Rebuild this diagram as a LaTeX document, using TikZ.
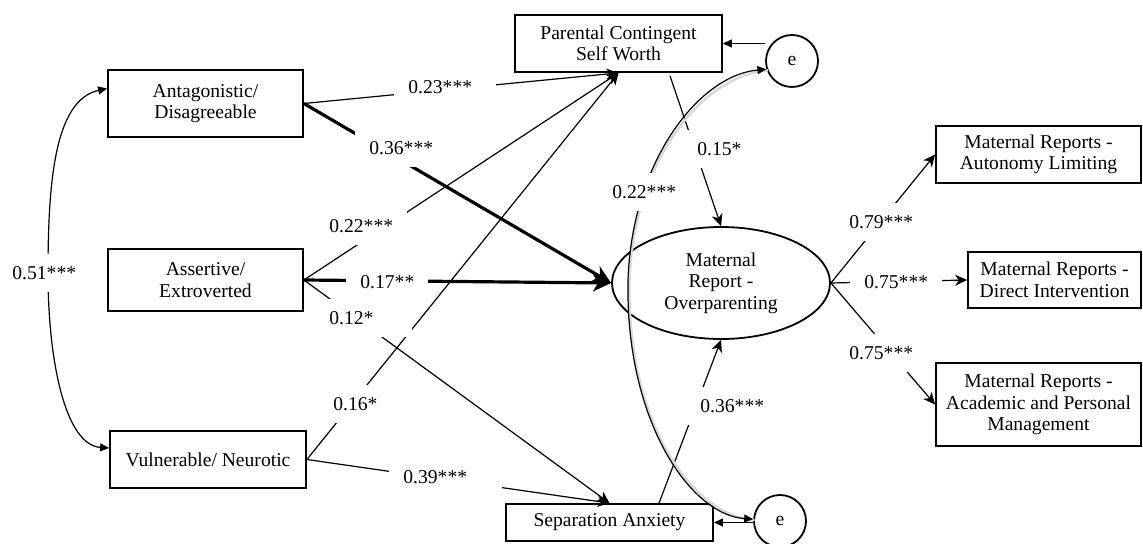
\documentclass[tikz,border=0pt]{standalone}
\usepackage{fontspec}
\setmainfont{Liberation Serif}
\usetikzlibrary{arrows.meta,shapes.geometric}
\begin{document}
\begin{tikzpicture}[x=0.5pt,y=-0.5pt,
  font=\fontsize{9.8}{10.8}\selectfont,
  box/.style={draw, line width=0.9pt, align=center, inner sep=0pt},
  circ/.style={draw, circle, line width=0.9pt, minimum size=26pt, inner sep=0pt},
  lat/.style={draw, ellipse, line width=0.9pt, align=center, minimum width=109pt, minimum height=56pt, inner sep=0pt},
  pth/.style={line width=0.6pt, -{Stealth[length=6pt,width=5.5pt,inset=1.8pt]}},
  pthick/.style={line width=1.6pt, -{Stealth[length=9pt,width=8.5pt,inset=2.5pt]}},
  errarr/.style={line width=0.6pt, -{Triangle[length=4.5pt,width=4pt]}},
  cov/.style={line width=0.6pt, {Triangle[length=4.5pt,width=4pt]}-{Triangle[length=4.5pt,width=4pt]}},
  shadowline/.style={gray!30, line width=1.3pt, transform canvas={shift={(0.7pt,-0.5pt)}}},
  lab/.style={fill=white, anchor=west, xshift=-7pt, inner xsep=7pt, inner ysep=6pt, align=left, text width=#1},
  lab/.default=32pt
]
\useasboundingbox (0,0) rectangle (1143,544);
% nodes
\node[box, minimum width=97.5pt, minimum height=33.5pt] (ant) at (205.5,103.5) {Antagonistic/\\Disagreeable};
\node[box, minimum width=97.5pt, minimum height=31pt] (ass) at (205.5,280) {Assertive/\\Extroverted};
\node[box, minimum width=98pt, minimum height=28.5pt] (vul) at (208,459.5) {Vulnerable/ Neurotic};
\node[box, minimum width=103.5pt, minimum height=28.5pt] (pcs) at (618.5,43.5) {Parental Contingent\\Self Worth};
\node[circ] (e1) at (792,61) {e};
\node[lat] (ovp) at (721,283) {Maternal\\Report -\\Overparenting};
\node[box, minimum width=103.5pt, minimum height=18.5pt] (sep) at (609.5,522.5) {Separation Anxiety};
\node[circ] (e2) at (780,521) {e};
\node[box, minimum width=102.5pt, minimum height=28.5pt] (aut) at (1038.5,154.5) {Maternal Reports -\\Autonomy Limiting};
\node[box, minimum width=86.5pt, minimum height=28pt] (dir) at (1054.5,280) {Maternal Reports -\\Direct Intervention};
\node[box, minimum width=102.5pt, minimum height=41.5pt] (aca) at (1038.5,404.5) {Maternal Reports -\\Academic and Personal\\Management};
% paths
\draw[pth] (ant.east) -- (pcs.south);
\draw[pthick] (ant.east) -- (ovp.west);
\draw[pth] (ass.east) -- (pcs.south);
\draw[pthick] (ass.east) -- (ovp.west);
\draw[pth] (ass.east) -- (sep.north);
\draw[pth] (vul.east) -- (pcs.south);
\draw[pth] (vul.east) -- (sep.north);
\draw[pth] ([xshift=25.75pt,yshift=-1.5pt]pcs.south) -- (ovp.north);
\draw[pth] ([xshift=24.75pt]sep.north) -- (ovp.south);
\draw[pth] (ovp.east) -- (aut.west);
\draw[pth] (ovp.east) -- (dir.west);
\draw[pth] (ovp.east) -- (aca.west);
\draw[errarr] (e1.west |- pcs.east) -- (pcs.east);
\draw[errarr] (e2.west |- sep.east) -- (sep.east);
% residual covariance
\draw[shadowline] (e1.198) .. controls (700,75) and (632,160) .. (628,280) .. controls (625,420) and (690,515) .. (e2.176);
\draw[cov] (e1.198) .. controls (700,75) and (632,160) .. (628,280) .. controls (625,420) and (690,515) .. (e2.176);
% exogenous correlation
\draw[cov] ([yshift=7.5pt]ant.west) .. controls (55,100) and (48,180) .. (48,273) .. controls (48,360) and (65,445) .. ([yshift=5.75pt]vul.west);
% labels
\node[lab=37pt] (l1) at (408,87) {0.23***};
\node[lab] (l2) at (369,148) {0.36***};
\node[lab] (l3) at (329,226) {0.22***};
\node[lab=27pt] (l4) at (360,282) {0.17**};
\node[lab=34.5pt] (l5) at (329,318) {0.12*};
\node[lab=22pt] (l6) at (333,404) {0.16*};
\node[lab=42.5pt] (l7) at (403,477) {0.39***};
\node[lab=22pt] (l8) at (697,149) {0.15*};
\node[lab] (l9) at (612,192) {0.22***};
\node[lab] (l10) at (700,406) {0.36***};
\node[lab] (l11) at (849,222) {0.79***};
\node[lab] (l12) at (864,282) {0.75***};
\node[lab] (l13) at (849,353) {0.75***};
\node[lab] (l14) at (12,273) {0.51***};
\end{tikzpicture}
\end{document}
